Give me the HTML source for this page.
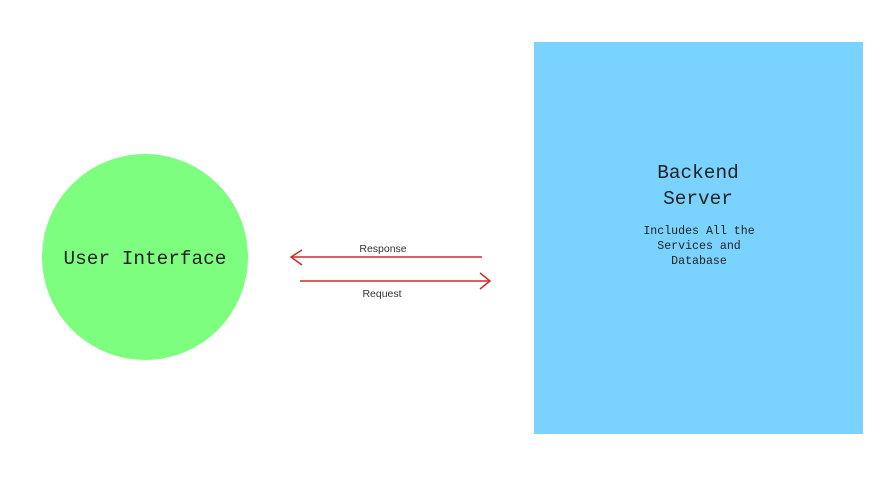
<!DOCTYPE html>
<html><head><style>
html,body{margin:0;padding:0;background:#fff;}
body{width:880px;height:495px;overflow:hidden;position:relative;}
</style></head><body>
<svg width="880" height="495" xmlns="http://www.w3.org/2000/svg" style="position:absolute;left:0;top:0">
<rect x="0" y="0" width="880" height="495" fill="#ffffff"/>
<circle cx="145" cy="257" r="103" fill="#7dfe7f"/>
<text x="145" y="264" text-anchor="middle" font-family="Liberation Mono, monospace" font-size="19.4" fill="#222">User Interface</text>
<rect x="534" y="42" width="329" height="392" fill="#7ad2fe"/>
<text x="698" y="178" text-anchor="middle" font-family="Liberation Mono, monospace" font-size="19.4" fill="#222">Backend</text>
<text x="698" y="204" text-anchor="middle" font-family="Liberation Mono, monospace" font-size="19.4" fill="#222">Server</text>
<text x="699" y="234" text-anchor="middle" font-family="Liberation Mono, monospace" font-size="11.6" fill="#222">Includes All the</text>
<text x="699" y="249" text-anchor="middle" font-family="Liberation Mono, monospace" font-size="11.6" fill="#222">Services and</text>
<text x="699" y="264" text-anchor="middle" font-family="Liberation Mono, monospace" font-size="11.6" fill="#222">Database</text>
<g stroke="#d42a2a" stroke-width="1.5" fill="none">
<line x1="291" y1="257" x2="482" y2="257"/>
<polyline points="302,250 291,257 302,265"/>
<line x1="300" y1="281" x2="490" y2="281"/>
<polyline points="480,273 490,281 480,289"/>
</g>
<text x="383" y="252" text-anchor="middle" font-family="Liberation Sans, sans-serif" font-size="10.5" fill="#333">Response</text>
<text x="382" y="297" text-anchor="middle" font-family="Liberation Sans, sans-serif" font-size="10.5" fill="#333">Request</text>
</svg>
</body></html>
